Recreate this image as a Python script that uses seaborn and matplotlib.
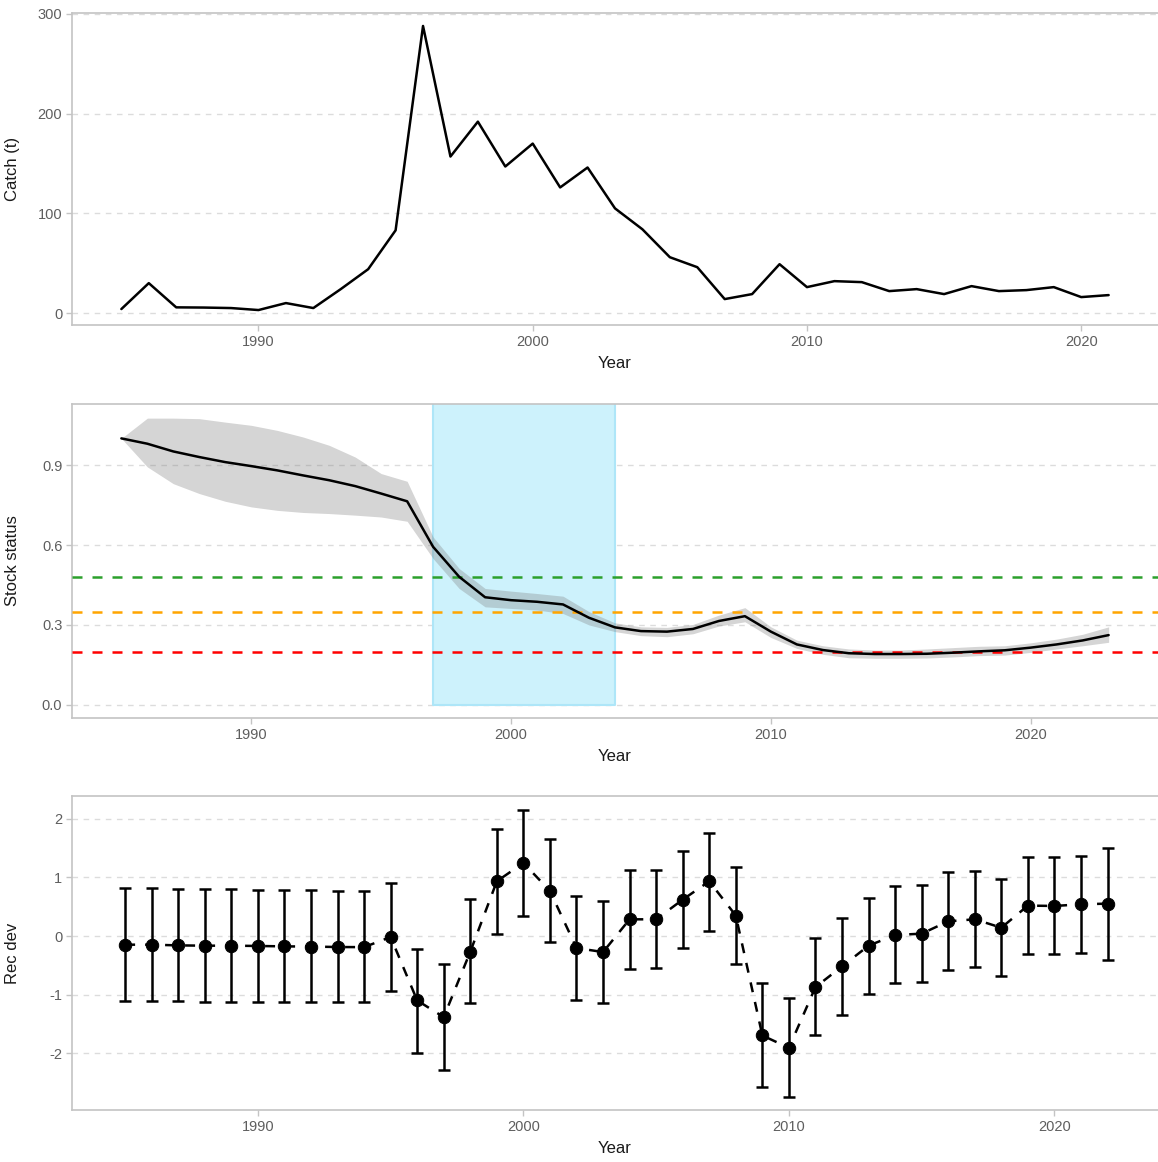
import numpy as np
import pandas as pd
import matplotlib
matplotlib.use("Agg")
import matplotlib.pyplot as plt
import seaborn as sns

# ---------------- data ----------------
catch_years = list(range(1985, 2022))
catch_t = [4, 30, 5.7, 5.5, 5, 3, 10, 5, 24, 44, 83, 288, 157, 192, 147, 170, 126, 146,
           105, 84, 56, 46, 14, 19, 49, 26, 32, 31, 22, 24, 19, 27, 22, 23, 26, 16, 18]

stock_years = list(range(1985, 2024))
stock_mid = [1.0, 0.980, 0.951, 0.930, 0.911, 0.896, 0.880, 0.861, 0.843, 0.821, 0.793, 0.764,
             0.593, 0.481, 0.404, 0.393, 0.387, 0.377, 0.327, 0.291, 0.277, 0.275, 0.285, 0.315,
             0.333, 0.275, 0.227, 0.206, 0.194, 0.191, 0.191, 0.192, 0.196, 0.201, 0.205, 0.215,
             0.227, 0.242, 0.262]
stock_hi = [1.0, 1.076, 1.076, 1.074, 1.061, 1.049, 1.030, 1.005, 0.974, 0.930, 0.868, 0.839,
            0.630, 0.512, 0.437, 0.427, 0.418, 0.408, 0.350, 0.308, 0.293, 0.291, 0.302, 0.337,
            0.365, 0.293, 0.243, 0.222, 0.210, 0.206, 0.206, 0.210, 0.215, 0.220, 0.222, 0.233,
            0.247, 0.265, 0.293]
stock_lo = [1.0, 0.893, 0.830, 0.793, 0.764, 0.743, 0.730, 0.722, 0.718, 0.712, 0.705, 0.689,
            0.549, 0.437, 0.368, 0.362, 0.356, 0.343, 0.300, 0.275, 0.260, 0.256, 0.267, 0.296,
            0.312, 0.253, 0.212, 0.190, 0.177, 0.175, 0.175, 0.176, 0.180, 0.185, 0.187, 0.197,
            0.210, 0.222, 0.235]
shade_years = [1997, 2004]
ref_levels = [0.48, 0.35, 0.20]
ref_colors = ["#2ca02c", "#ffa500", "#ff0000"]

rec_years = list(range(1985, 2023))
rec_mid = [-0.148, -0.148, -0.16, -0.165, -0.165, -0.17, -0.177, -0.18, -0.188, -0.19,
           -0.017, -1.10, -1.385, -0.268, 0.934, 1.248, 0.769, -0.205, -0.274, 0.285,
           0.285, 0.621, 0.934, 0.348, -1.698, -1.909, -0.872, -0.519, -0.165, 0.017,
           0.04, 0.251, 0.285, 0.142, 0.519, 0.513, 0.541, 0.553]
rec_hi = [0.826, 0.815, 0.81, 0.80, 0.80, 0.79, 0.786, 0.78, 0.775, 0.77,
          0.906, -0.228, -0.479, 0.627, 1.829, 2.148, 1.652, 0.69, 0.604, 1.134,
          1.122, 1.447, 1.766, 1.185, -0.809, -1.06, -0.034, 0.313, 0.655, 0.855,
          0.872, 1.094, 1.117, 0.974, 1.345, 1.345, 1.368, 1.51]
rec_lo = [-1.117, -1.117, -1.117, -1.12, -1.12, -1.12, -1.128, -1.128, -1.134, -1.134,
          -0.934, -1.994, -2.279, -1.145, 0.034, 0.342, -0.103, -1.1, -1.14, -0.57,
          -0.547, -0.205, 0.091, -0.479, -2.57, -2.752, -1.687, -1.345, -0.991, -0.803,
          -0.78, -0.575, -0.535, -0.684, -0.308, -0.313, -0.285, -0.405]

# ---------------- style ----------------
sns.set_theme(style="white")
plt.rcParams["font.family"] = ["Liberation Sans", "DejaVu Sans"]
plt.rcParams["axes.unicode_minus"] = False

fig = plt.figure(figsize=(11.58, 11.62), dpi=100)
W, H = 1158, 1162
def box(l, t, r, b):
    return [l / W, 1 - b / H, (r - l) / W, (b - t) / H]

ax1 = fig.add_axes(box(72, 13, 1158, 325))
ax2 = fig.add_axes(box(72, 404, 1158, 718))
ax3 = fig.add_axes(box(72, 796, 1158, 1110))

def style(ax):
    for s in ax.spines.values():
        s.set_color("#c4c4c4")
        s.set_linewidth(1.2)
    ax.spines["right"].set_visible(False)
    ax.yaxis.grid(True, color="#dcdcdc", linestyle=(0, (4, 4)), linewidth=1.0)
    ax.xaxis.grid(False)
    ax.set_axisbelow(True)
    ax.tick_params(axis="both", which="major", length=4, width=1, color="#c4c4c4",
                   labelsize=10.5, labelcolor="#5e5e5e", bottom=True, left=True, pad=3)
    ax.xaxis.label.set_size(12)
    ax.yaxis.label.set_size(12)
    ax.xaxis.label.set_color("#1a1a1a")
    ax.yaxis.label.set_color("#1a1a1a")

# ---------------- panel 1: catch ----------------
df_c = pd.DataFrame({"Year": catch_years, "Catch": catch_t})
sns.lineplot(data=df_c, x="Year", y="Catch", ax=ax1, color="black", linewidth=1.8)
ax1.set_xlim(1983.2, 2022.8)
ax1.set_ylim(-12, 301)
ax1.set_xticks([1990, 2000, 2010, 2020])
ax1.set_yticks([0, 100, 200, 300])
ax1.set_xlabel("Year")
ax1.set_ylabel("Catch (t)")
style(ax1)

# ---------------- panel 2: stock status ----------------
ax2.fill_between(shade_years, 0, 2, facecolor="#cdf2fc", edgecolor="#aee6f8",
                 linewidth=1.5, zorder=1)
ax2.fill_between(stock_years, stock_lo, stock_hi, color="#808080", alpha=0.33,
                 linewidth=0, zorder=2)
df_s = pd.DataFrame({"Year": stock_years, "Status": stock_mid})
sns.lineplot(data=df_s, x="Year", y="Status", ax=ax2, color="black", linewidth=1.8, zorder=4)
for lvl, col in zip(ref_levels, ref_colors):
    ax2.axhline(lvl, color=col, linestyle=(0, (4, 4)), linewidth=1.8, zorder=3)
ax2.set_xlim(1983.1, 2024.9)
ax2.set_ylim(-0.049, 1.129)
ax2.set_xticks([1990, 2000, 2010, 2020])
ax2.set_yticks([0.0, 0.3, 0.6, 0.9])
ax2.set_yticklabels(["0.0", "0.3", "0.6", "0.9"])
ax2.set_xlabel("Year")
ax2.set_ylabel("Stock status")
style(ax2)

# ---------------- panel 3: rec dev ----------------
rec_mid_a = np.array(rec_mid)
yerr = np.vstack([rec_mid_a - np.array(rec_lo), np.array(rec_hi) - rec_mid_a])
ax3.errorbar(rec_years, rec_mid, yerr=yerr, fmt="none", ecolor="black",
             elinewidth=1.8, capsize=4, capthick=1.8, zorder=3)
df_r = pd.DataFrame({"Year": rec_years, "Rec": rec_mid})
sns.lineplot(data=df_r, x="Year", y="Rec", ax=ax3, color="black", linewidth=1.8,
             linestyle=(0, (4, 4)), zorder=2)
sns.scatterplot(data=df_r, x="Year", y="Rec", ax=ax3, color="black", s=80,
                edgecolor="black", zorder=4)
ax3.set_xlim(1983.0, 2023.9)
ax3.set_ylim(-2.97, 2.39)
ax3.set_xticks([1990, 2000, 2010, 2020])
ax3.set_yticks([-2, -1, 0, 1, 2])
ax3.set_xlabel("Year")
ax3.set_ylabel("Rec dev")
style(ax3)

for ax in (ax1, ax2, ax3):
    ax.xaxis.set_label_coords(0.5, -0.1)
    ax.yaxis.set_label_coords(-0.048, 0.5)

fig.savefig("out.png", dpi=100)
